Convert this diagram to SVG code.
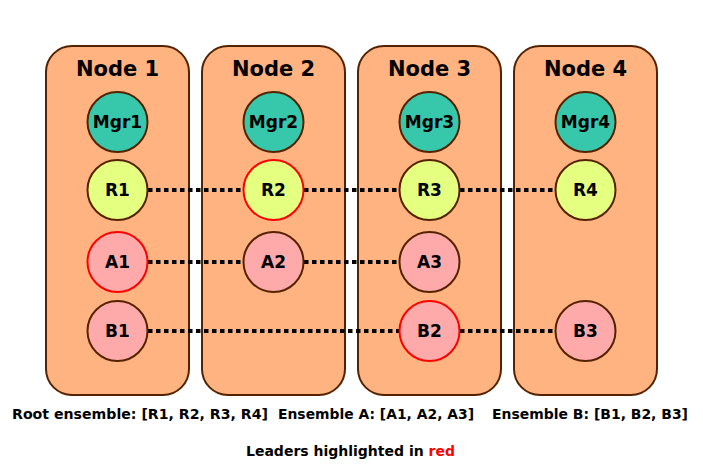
<svg xmlns="http://www.w3.org/2000/svg" width="703" height="468" viewBox="0 0 703 468">
<style>
.box{fill:#FFB380;stroke:#552200;stroke-width:2}
.t{font-family:"DejaVu Sans",Verdana,sans-serif;font-weight:bold;fill:#000}
.title{font-size:21px;text-anchor:middle}
.lbl{font-size:17px;text-anchor:middle;dominant-baseline:central}
.cap{font-size:14px}
circle{stroke:#552200;stroke-width:2}
.mgr{fill:#37C8AB}
.r{fill:#E5FF80}
.p{fill:#FFAAAA}
.lead{stroke:#FF0000}
.con line{stroke:#000;stroke-width:4;stroke-dasharray:4.5,3.5}
</style>
<rect width="703" height="468" fill="#fff"/>
<g id="node1"><rect class="box" x="46" y="46" width="143" height="349" rx="26"/><text class="t title" x="117.5" y="76">Node 1</text></g>
<g id="node2"><rect class="box" x="202" y="46" width="143" height="349" rx="26"/><text class="t title" x="273.5" y="76">Node 2</text></g>
<g id="node3"><rect class="box" x="358" y="46" width="143" height="349" rx="26"/><text class="t title" x="429.5" y="76">Node 3</text></g>
<g id="node4"><rect class="box" x="514" y="46" width="143" height="349" rx="26"/><text class="t title" x="585.5" y="76">Node 4</text></g>
<g class="con" id="connectors">
<line x1="148" y1="190" x2="243" y2="190"/>
<line x1="304" y1="190" x2="399" y2="190"/>
<line x1="460" y1="190" x2="555" y2="190"/>
<line x1="148" y1="262" x2="243" y2="262"/>
<line x1="304" y1="262" x2="399" y2="262"/>
<line x1="148" y1="331" x2="399" y2="331"/>
<line x1="460" y1="331" x2="555" y2="331"/>
</g>
<g id="Mgr1"><circle class="mgr" cx="117.5" cy="122" r="30"/><text class="t lbl" x="117.5" y="122">Mgr1</text></g>
<g id="Mgr2"><circle class="mgr" cx="273.5" cy="122" r="30"/><text class="t lbl" x="273.5" y="122">Mgr2</text></g>
<g id="Mgr3"><circle class="mgr" cx="429.5" cy="122" r="30"/><text class="t lbl" x="429.5" y="122">Mgr3</text></g>
<g id="Mgr4"><circle class="mgr" cx="585.5" cy="122" r="30"/><text class="t lbl" x="585.5" y="122">Mgr4</text></g>
<g id="R1"><circle class="r" cx="117.5" cy="190" r="30"/><text class="t lbl" x="117.5" y="190">R1</text></g>
<g id="R2"><circle class="r lead" cx="273.5" cy="190" r="30"/><text class="t lbl" x="273.5" y="190">R2</text></g>
<g id="R3"><circle class="r" cx="429.5" cy="190" r="30"/><text class="t lbl" x="429.5" y="190">R3</text></g>
<g id="R4"><circle class="r" cx="585.5" cy="190" r="30"/><text class="t lbl" x="585.5" y="190">R4</text></g>
<g id="A1"><circle class="p lead" cx="117.5" cy="262" r="30"/><text class="t lbl" x="117.5" y="262">A1</text></g>
<g id="A2"><circle class="p" cx="273.5" cy="262" r="30"/><text class="t lbl" x="273.5" y="262">A2</text></g>
<g id="A3"><circle class="p" cx="429.5" cy="262" r="30"/><text class="t lbl" x="429.5" y="262">A3</text></g>
<g id="B1"><circle class="p" cx="117.5" cy="331" r="30"/><text class="t lbl" x="117.5" y="331">B1</text></g>
<g id="B2"><circle class="p lead" cx="429.5" cy="331" r="30"/><text class="t lbl" x="429.5" y="331">B2</text></g>
<g id="B3"><circle class="p" cx="585.5" cy="331" r="30"/><text class="t lbl" x="585.5" y="331">B3</text></g>
<text class="t cap" x="12" y="419" textLength="256" lengthAdjust="spacingAndGlyphs">Root ensemble: [R1, R2, R3, R4]</text>
<text class="t cap" x="278" y="419" textLength="196" lengthAdjust="spacingAndGlyphs">Ensemble A: [A1, A2, A3]</text>
<text class="t cap" x="492" y="419" textLength="196" lengthAdjust="spacingAndGlyphs">Ensemble B: [B1, B2, B3]</text>
<text class="t cap" x="350.5" y="456" text-anchor="middle">Leaders highlighted in <tspan fill="#FF0000">red</tspan></text>
</svg>
